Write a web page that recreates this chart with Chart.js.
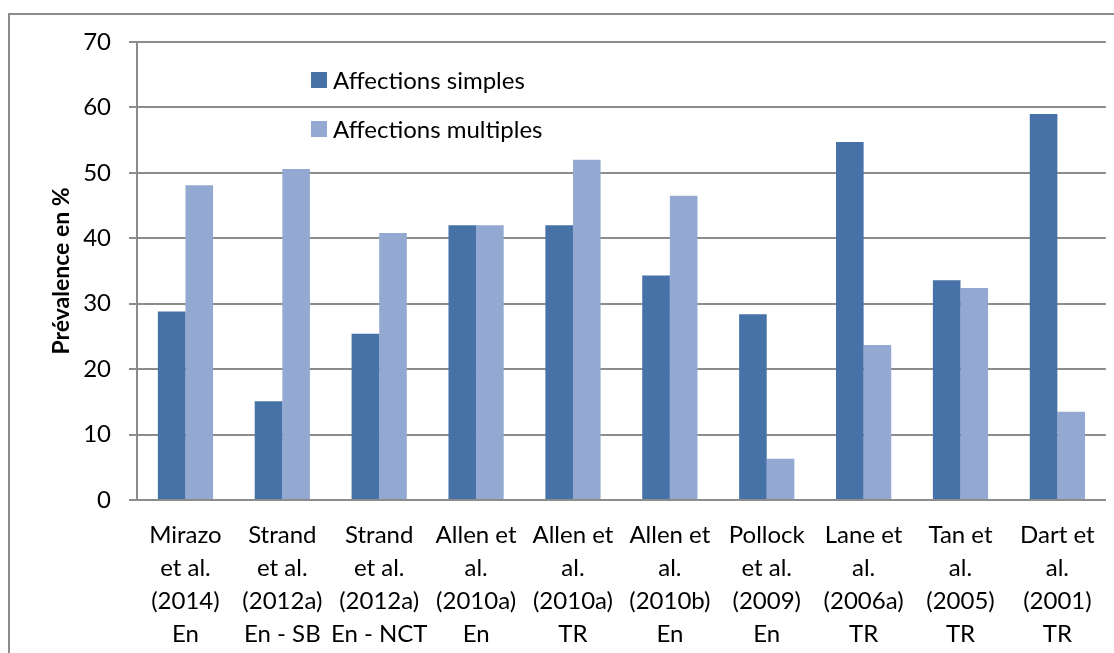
<!DOCTYPE html>
<html>
<head>
<meta charset="utf-8">
<script src="https://cdn.jsdelivr.net/npm/chart.js@4.4.1/dist/chart.umd.min.js"></script>
<style>
  html, body { margin: 0; padding: 0; background: #fff; overflow: hidden; }
  #frame { position: absolute; left: 8px; top: 13px; width: 1200px; height: 700px; border: 2px solid #8c8c8c; }
  #wrap { position: absolute; left: 0; top: 0; width: 1114px; height: 653px; }
</style>
</head>
<body>
<div id="frame"></div>
<div id="wrap"><canvas id="chart" width="1114" height="653"></canvas></div>
<script>
const studies = [
  ["Mirazo", "et al.", "(2014)", "En"],
  ["Strand", "et al.", "(2012a)", "En - SB"],
  ["Strand", "et al.", "(2012a)", "En - NCT"],
  ["Allen et", "al.", "(2010a)", "En"],
  ["Allen et", "al.", "(2010a)", "TR"],
  ["Allen et", "al.", "(2010b)", "En"],
  ["Pollock", "et al.", "(2009)", "En"],
  ["Lane et", "al.", "(2006a)", "TR"],
  ["Tan et", "al.", "(2005)", "TR"],
  ["Dart et", "al.", "(2001)", "TR"]
];
const simples = [28.8, 15.1, 25.4, 42.0, 42.0, 34.3, 28.4, 54.7, 33.6, 59.0];
const multiples = [48.1, 50.6, 40.8, 42.0, 52.0, 46.5, 6.3, 23.7, 32.4, 13.5];
const seriesNames = ["Affections simples", "Affections multiples"];
const yTicks = [0, 10, 20, 30, 40, 50, 60, 70];

const FONT = "Lato";
const gridColor = "#8c8c8c";
const textColor = "#000";

// legend sits inside the plot, drawn by hand
const insideLegend = {
  id: "insideLegend",
  afterDraw(chart) {
    const ctx = chart.ctx;
    ctx.save();
    ctx.font = "24px " + FONT;
    ctx.textBaseline = "middle";
    chart.data.datasets.forEach((ds, i) => {
      const y = 80 + i * 49;
      ctx.fillStyle = ds.backgroundColor;
      ctx.fillRect(311, y - 8, 16, 16);
      ctx.fillStyle = textColor;
      ctx.fillText(ds.label, 333, y + 1);
    });
    ctx.restore();
  }
};

new Chart(document.getElementById("chart"), {
  type: "bar",
  data: {
    labels: studies,
    datasets: [
      { label: seriesNames[0], data: simples, backgroundColor: "#4672a8",
        categoryPercentage: 0.57, barPercentage: 1.0 },
      { label: seriesNames[1], data: multiples, backgroundColor: "#94a9d1",
        categoryPercentage: 0.57, barPercentage: 1.0 }
    ]
  },
  options: {
    responsive: false,
    animation: false,
    devicePixelRatio: 1,
    layout: { padding: { left: 0, top: 42, right: 7, bottom: 0 } },
    plugins: {
      legend: { display: false },
      tooltip: { enabled: false }
    },
    scales: {
      x: {
        afterFit(scale) { scale.height = 153; },
        grid: { display: false, drawTicks: false },
        border: { display: true, color: gridColor, width: 2 },
        ticks: { color: textColor, font: { family: FONT, size: 24, lineHeight: 1.375 }, padding: 19, maxRotation: 0, autoSkip: false }
      },
      y: {
        min: 0,
        max: 70,
        afterFit(scale) { scale.width = 137; },
        afterBuildTicks(scale) { scale.ticks = yTicks.map(v => ({ value: v })); },
        grid: { color: gridColor, lineWidth: 2, tickLength: 8 },
        border: { display: true, color: gridColor, width: 2 },
        ticks: { color: textColor, font: { family: FONT, size: 24 }, padding: 18 },
        title: {
          display: true,
          text: "Prévalence en %",
          color: textColor,
          font: { family: FONT, size: 23, weight: "bold" },
          padding: { top: 48, bottom: 0 }
        }
      }
    }
  },
  plugins: [insideLegend]
});
</script>
</body>
</html>
